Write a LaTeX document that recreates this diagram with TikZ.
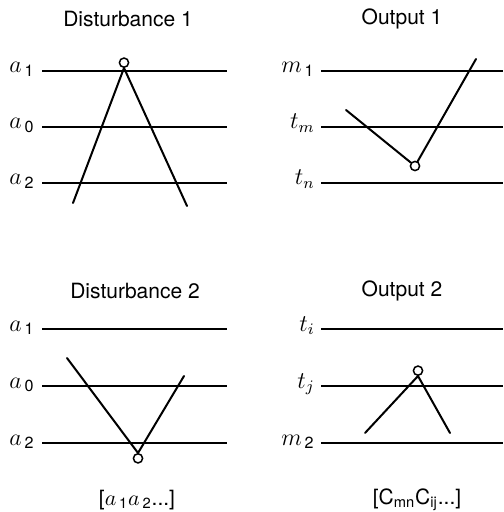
\documentclass[tikz,border=0pt]{standalone}
\usepackage{amsmath}
\usepackage{fontspec}
\setmainfont{TeX Gyre Heros}
\usepackage{xcolor}
\usepackage{tikz}
\definecolor{figline}{RGB}{0,0,0}
\tikzset{
  lvl/.style  ={draw=figline, line width=1pt},
  leg/.style  ={draw=figline, line width=1pt, line cap=round},
  pin/.style  ={circle, draw=figline, line width=0.75pt, fill=white, minimum size=4.6pt, inner sep=0pt},
  ttl/.style  ={font=\fontsize{10.5}{12}\selectfont, inner sep=0pt},
  lab/.style  ={font=\fontsize{11.5}{13}\selectfont, inner sep=0pt, anchor=base east},
}
\newcommand{\lsub}[1]{_{\,\text{#1}}}

\begin{document}
\begin{tikzpicture}[x=0.5pt,y=-0.5pt]
  \useasboundingbox (0,0) rectangle (503,512);
  % titles
  \node[ttl] (t1) at (128,19) {Disturbance 1};
  \node[ttl] (t2) at (402,19) {Output 1};
  \node[ttl] (t3) at (135,291) {Disturbance 2};
  \node[ttl] (t4) at (402,291) {Output 2};
  % levels, upper row
  \node[lab] (a1u) at (35,73) {$a\lsub{1}$};
  \node[lab] (a0u) at (35,129) {$a\lsub{0}$};
  \node[lab] (a2u) at (35,185) {$a\lsub{2}$};
  \draw[lvl] (42,71) -- (227,71);
  \draw[lvl] (42,127) -- (227,127);
  \draw[lvl] (42,183) -- (227,183);
  \node[lab] (m1) at (315,73) {$m\lsub{1}$};
  \node[lab] (tm) at (315,129) {$t_{m}$};
  \node[lab] (tn) at (315,185) {$t_{n}$};
  \draw[lvl] (321,71) -- (503,71);
  \draw[lvl] (321,127) -- (503,127);
  \draw[lvl] (321,183) -- (503,183);
  % levels, lower row
  \node[lab] (a1d) at (35,331) {$a\lsub{1}$};
  \node[lab] (a0d) at (35,388) {$a\lsub{0}$};
  \node[lab] (a2d) at (35,445) {$a\lsub{2}$};
  \draw[lvl] (42,329) -- (227,329);
  \draw[lvl] (42,386) -- (227,386);
  \draw[lvl] (42,443) -- (227,443);
  \node[lab] (ti) at (315,331) {$t_{i}$};
  \node[lab] (tj) at (315,388) {$t_{j}$};
  \node[lab] (m2) at (315,445) {$m\lsub{2}$};
  \draw[lvl] (321,329) -- (503,329);
  \draw[lvl] (321,386) -- (503,386);
  \draw[lvl] (321,443) -- (503,443);
  % transitions
  \coordinate (c1) at (124,68);
  \coordinate (p1l) at (73,203);
  \coordinate (p1r) at (187,206);
  \draw[leg] (p1l) -- (c1) -- (p1r);
  \node[pin,anchor=south] (p1) at (c1) {};
  \coordinate (p2l) at (346,110);
  \coordinate (p2r) at (476,59);
  \node[pin] (p2) at (415,166) {};
  \draw[leg] (p2l) -- (p2) -- (p2r);
  \coordinate (c3) at (138,453);
  \coordinate (p3l) at (67,358);
  \coordinate (p3r) at (184,376);
  \draw[leg] (p3l) -- (c3) -- (p3r);
  \node[pin,anchor=north] (p3) at (c3) {};
  \coordinate (c4) at (418,376);
  \coordinate (p4l) at (365,433);
  \coordinate (p4r) at (450,433);
  \draw[leg] (p4l) -- (c4) -- (p4r);
  \node[pin,anchor=south] (p4) at (c4) {};
  % sequences
  \node[ttl] (s1) at (137,500) {[$a\lsub{1}a\lsub{2}$...]};
  \node[ttl] (s2) at (417,500) {[C$_{\text{mn}}$C$_{\text{ij}}$...]};
\end{tikzpicture}
\end{document}
